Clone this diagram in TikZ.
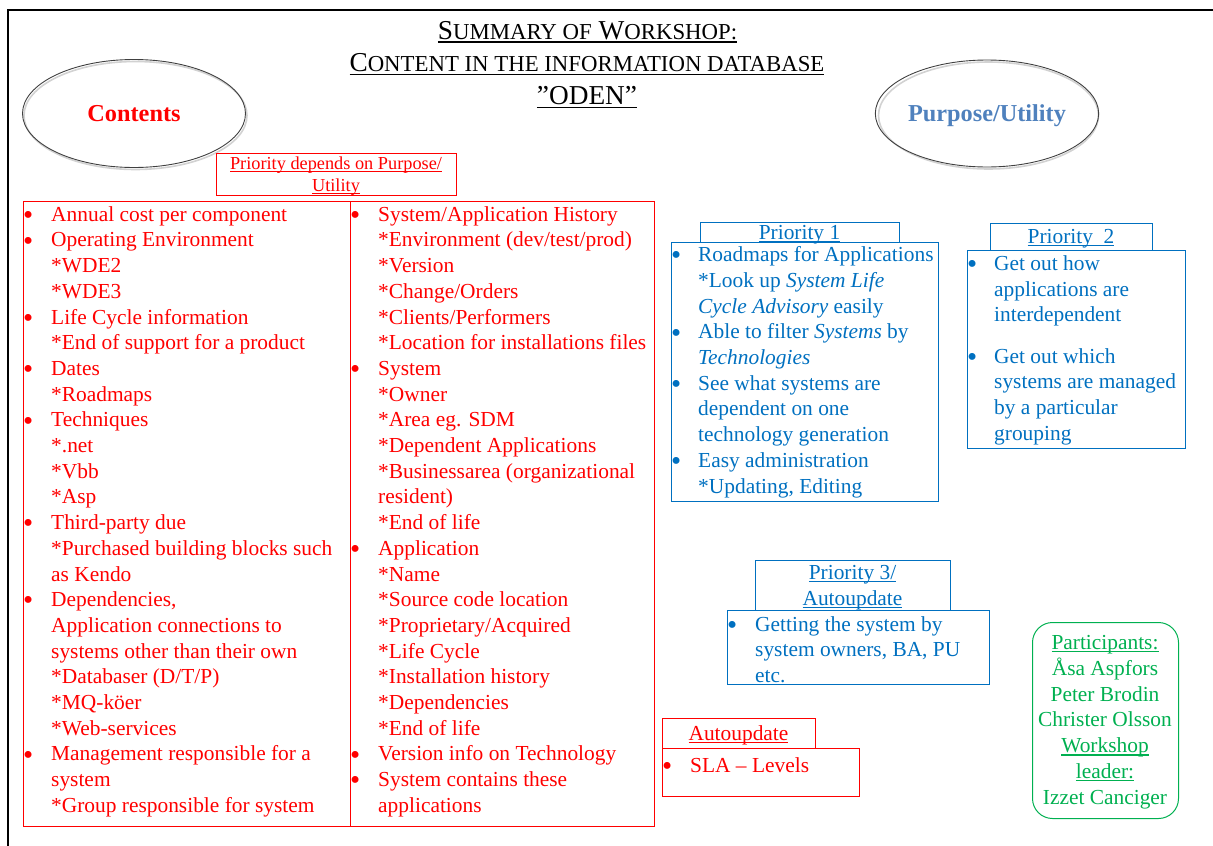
\documentclass[tikz,border=0pt]{standalone}
\usepackage{fontspec}
\setmainfont{Liberation Serif}
\usepackage{graphicx}
\usetikzlibrary{shapes.geometric}

\definecolor{cred}{HTML}{FF0000}
\definecolor{cblue}{HTML}{0070C0}
\definecolor{cgreen}{HTML}{00B050}
\definecolor{cpurp}{HTML}{4F81BD}
\definecolor{cring}{HTML}{404040}

% text sizes (1pt = 1px of the page)
\newcommand\bodyfont{\fontsize{21.4}{25.7}\selectfont}
\newcommand\notefont{\fontsize{18.3}{22.5}\selectfont}
\newcommand\titlefont{\fontsize{27.3}{33}\selectfont}
\newcommand\smc[1]{{\fontsize{22.8}{33}\selectfont #1}}
% underline that runs at a fixed depth below the baseline
\newcommand\ul[1]{{\setbox0=\hbox{#1}\rlap{\copy0}\rule[-0.13em]{\wd0}{0.05em}}}
% bullet hanging to the left of the line
\newlength\bulgap
\setlength\bulgap{23pt}
\newcommand\bu{\llap{\makebox[0pt]{\raisebox{-3.2pt}{\scalebox{1.35}{\textbullet}}}\hspace{\bulgap}}}

\tikzset{
  frame/.style={line width=2.3pt, line join=miter},
  ring/.style={ellipse, draw=cring, line width=0.9pt, inner sep=0pt,
    text height=16pt, text depth=0pt, font=\fontsize{24.3}{28}\selectfont\bfseries},
  ringshade/.style={gray!35, line width=1.6pt},
  rbox/.style={draw=cred, line width=1pt, inner sep=0pt, anchor=north west},
  bbox/.style={draw=cblue, line width=1pt, inner sep=0pt, anchor=north west},
  gbox/.style={draw=cgreen, line width=1pt, inner sep=0pt, anchor=north west, rounded corners=20pt},
  listtext/.style={anchor=north west, inner sep=0pt, align=left, font=\bodyfont,
    execute at begin node=\strut},
  headtext/.style={anchor=base, inner sep=0pt, font=\bodyfont},
}

\begin{document}
\begin{tikzpicture}[x=1pt,y=-1pt]
\useasboundingbox (0,0) rectangle (1213,846);

% page frame (left and top edges)
\draw[frame] (8,846) -- (8,10) -- (1213,10);

% title
\node[anchor=base, inner sep=0pt, font=\titlefont] (title1) at (587.5,39)
  {\ul{S\smc{UMMARY OF} W\smc{ORKSHOP:}}};
\node[anchor=base, inner sep=0pt, font=\titlefont] (title2) at (587,71.5)
  {\ul{C\smc{ONTENT IN THE INFORMATION DATABASE}}};
\node[anchor=base, inner sep=0pt, font=\titlefont] (title3) at (587,104.5)
  {\ul{”ODEN”}};

% the two headings in ellipses
\draw[ringshade] (135.5,115.5) ellipse [x radius=111.5pt, y radius=54pt];
\node[ring, minimum width=223pt, minimum height=108pt, text=cred] (contents) at (134,113.5) {Contents};
\draw[ringshade] (988.5,115.5) ellipse [x radius=110pt, y radius=53.5pt];
\node[ring, minimum width=220pt, minimum height=107pt, text=cpurp] (purpose) at (987,113.5) {Purpose/Utility};

% note above the contents table
\node[rbox, minimum width=240pt, minimum height=42pt] (notebox) at (216,153) {};
\node[anchor=north, inner sep=0pt, align=center, font=\notefont, text=cred,
  execute at begin node=\strut] (notetext) at (336,156.3)
  {\ul{Priority depends on Purpose/}\\\ul{Utility}};

% contents table, two columns
\node[rbox, minimum width=631pt, minimum height=625pt] (contbox) at (23,201) {};
\draw[draw=cred, line width=1pt] (contbox.north west) ++(327,0) coordinate (divtop)
  -- (divtop |- contbox.south);

\node[listtext, text=cred] (colA) at (51,206.2) {%
\bu Annual cost per component\\
\bu Operating Environment\\
*WDE2\\
*WDE3\\
\bu Life Cycle information\\
*End of support for a product\\
\bu Dates\\
*Roadmaps\\
\bu Techniques\\
*.net\\
*Vbb\\
*Asp\\
\bu Third-party due\\
*Purchased building blocks such\\
as Kendo\\
\bu Dependencies,\\
Application connections to\\
systems other than their own\\
*Databaser (D/T/P)\\
*MQ-köer\\
*Web-services\\
\bu Management responsible for a\\
system\\
*Group responsible for system};

\node[listtext, text=cred] (colB) at (378,206.2) {%
\bu System/Application History\\
*Environment (dev/test/prod)\\
*Version\\
*Change/Orders\\
*Clients/Performers\\
*Location for installations files\\
\bu System\\
*Owner\\
*Area eg. SDM\\
*Dependent Applications\\
*Businessarea (organizational\\
resident)\\
*End of life\\
\bu Application\\
*Name\\
*Source code location\\
*Proprietary/Acquired\\
*Life Cycle\\
*Installation history\\
*Dependencies\\
*End of life\\
\bu Version info on Technology\\
\bu System contains these\\
applications};

% priority 1
\node[bbox, minimum width=199pt, minimum height=20pt] (p1head) at (700,222.3) {};
\node[headtext, text=cblue] (p1title) at (799.5,239) {\ul{Priority 1}};
\node[bbox, minimum width=267pt, minimum height=258.4pt] (p1box) at (671,242.3) {};
\node[listtext, text=cblue, execute at begin node={\strut\setlength\bulgap{22pt}}] (p1text) at (698,246.5) {%
\bu Roadmaps for Applications\\
*Look up \textit{System Life}\\
\textit{Cycle Advisory} easily\\
\bu Able to filter \textit{Systems} by\\
\textit{Technologies}\\
\bu See what systems are\\
dependent on one\\
technology generation\\
\bu Easy administration\\
*Updating, Editing};

% priority 2
\node[bbox, minimum width=162pt, minimum height=27.5pt] (p2head) at (990,222.5) {};
\node[headtext, text=cblue] (p2title) at (1071,243) {\ul{Priority\ \ 2}};
\node[bbox, minimum width=218pt, minimum height=197.7pt] (p2box) at (967,250) {};
\node[listtext, text=cblue, execute at begin node={\strut\setlength\bulgap{22pt}}] (p2text) at (994,255.5) {%
\bu Get out how\\
applications are\\
interdependent\\[15.6pt]
\bu Get out which\\
systems are managed\\
by a particular\\
grouping};

% priority 3 / autoupdate
\node[bbox, minimum width=195pt, minimum height=50pt] (p3head) at (755,560) {};
\node[headtext, text=cblue] (p3titleA) at (852.5,579.5) {\ul{Priority 3/}};
\node[headtext, text=cblue] (p3titleB) at (852.5,605.5) {\ul{Autoupdate}};
\node[bbox, minimum width=262pt, minimum height=73.5pt] (p3box) at (727,610) {};
\node[listtext, text=cblue, execute at begin node={\strut\setlength\bulgap{23pt}}] (p3text) at (755,616) {%
\bu Getting the system by\\
system owners, BA, PU\\
etc.};

% autoupdate
\node[rbox, minimum width=153pt, minimum height=30pt] (auhead) at (662,718) {};
\node[headtext, text=cred] (autitle) at (738.5,740) {\ul{Autoupdate}};
\node[rbox, minimum width=197pt, minimum height=48pt] (aubox) at (662,748) {};
\node[listtext, text=cred] (autext) at (690,754.5) {\bu SLA – Levels};

% participants
\node[gbox, minimum width=146pt, minimum height=196pt] (partbox) at (1032,622) {};
\node[anchor=north, inner sep=0pt, align=center, font=\fontsize{21.4}{25.8}\selectfont,
  text=cgreen, execute at begin node=\strut] (parttext) at (1105,635.2) {%
\ul{Participants:}\\
Åsa Aspfors\\
Peter Brodin\\
Christer Olsson\\
\ul{Workshop}\\
\ul{leader:}\\
Izzet Canciger};
\end{tikzpicture}
\end{document}
